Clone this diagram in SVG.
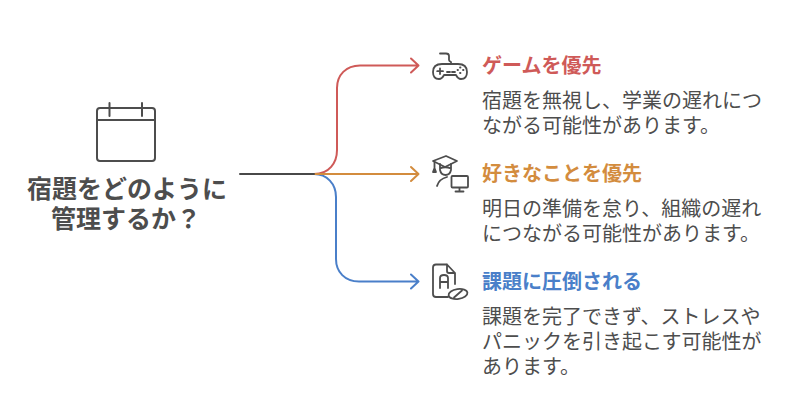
<svg xmlns="http://www.w3.org/2000/svg" width="792" height="408" viewBox="0 0 792 408">
<style>
text{font-family:"Noto Sans CJK JP","Noto Sans",sans-serif}
.t{font-size:25px;font-weight:700;fill:#4d4d4d;text-anchor:middle}
.h{font-size:20px;font-weight:700}
.b{font-size:20px;fill:#4d4d4d}
.i{fill:none;stroke:#4d4d4d;stroke-width:1.800;stroke-linecap:round;stroke-linejoin:round}
.c{fill:none;stroke-width:2;stroke-linecap:round;stroke-linejoin:round}
</style>
<rect width="792" height="408" fill="#fff"/>
<g id="connectors">
<path class="c" stroke="#cf5a58" d="M314 174C329 174 337 163 337 150V88C337 75 346 65.500 360 65.500H418M411 58.500L418.500 65.500L411 72.500"/>
<path class="c" stroke="#4a7fc9" d="M314 174C327 174 336 184 336 197V259C336 272 345 281.500 359 281.500H418M411 274.500L418.500 281.500L411 288.500"/>
<path class="c" stroke="#d38c3e" d="M314 174H418M411 167L418.500 174L411 181"/>
<path class="c" stroke="#484848" d="M240 174H314"/>
</g>
<g id="root">
<g class="i" style="stroke-width:2">
<rect x="97" y="108" width="58" height="53" rx="3"/>
<path d="M97 120H155M109.500 103V116M142 103V116"/>
</g>
<text class="t"><tspan x="127" y="198">宿題をどのように</tspan><tspan x="126" y="228">管理するか？</tspan></text>
</g>
<g id="node-game">
<g class="i">
<path d="M440 53.500H446Q449 53.500 449 56V60Q449 61 451 62V63.500"/>
<path d="M442 64H458Q467 64 467 72Q467 79 461 79Q458 79 456 75H444Q442 79 439 79Q433 79 433 72Q433 64 442 64Z"/>
<path d="M440 68.500V74M437.200 71.200H443M447 72H450M452 72H455M460 67.500H460.500M463 70H463.500M460 73H460.500M457.500 70H458"/>
</g>
<text class="h" x="482" y="73" fill="#cf5a58">ゲームを優先</text>
<text class="b"><tspan x="482" y="108">宿題を無視し、学業の遅れにつ</tspan><tspan x="482" y="133">ながる可能性があります。</tspan></text>
</g>
<g id="node-fun">
<g class="i">
<path d="M446 156L457 161L445 167L433 161Z"/>
<path d="M440 164V170M451 164V170M440 168.500Q445 166 451 168.500M440 170Q441 175 445.500 175Q450 175 451 170"/>
<path d="M434.500 162V168M433 172L434.500 168L436 172Z"/>
<path d="M437 186Q439 179 447 177"/>
<rect x="451.500" y="176" width="16.500" height="11.500" rx="1"/>
<path d="M459.500 188V191M455.500 191.500H463.500"/>
</g>
<text class="h" x="482" y="181" fill="#d38c3e">好きなことを優先</text>
<text class="b"><tspan x="482" y="216">明日の準備を怠り、組織の遅れ</tspan><tspan x="482" y="241">につながる可能性があります。</tspan></text>
</g>
<g id="node-overwhelm">
<g class="i">
<path d="M447 264.500H436Q433 264.500 433 267.500V294Q433 297 436 297H448M447 264.500L455 273V284M447 264.500V271Q447 273 449 273H455"/>
<path d="M440 288V278Q440 275 444 275Q448 275 448 278V288M440 282H448"/>
<ellipse cx="458" cy="294" rx="9.500" ry="5" transform="rotate(-8 458 294)"/>
<path d="M454 297.500L462 290.500"/>
</g>
<text class="h" x="482" y="289" fill="#4a7fc9">課題に圧倒される</text>
<text class="b"><tspan x="482" y="324">課題を完了できず、ストレスや</tspan><tspan x="482" y="349">パニックを引き起こす可能性が</tspan><tspan x="482" y="374">あります。</tspan></text>
</g>
</svg>
